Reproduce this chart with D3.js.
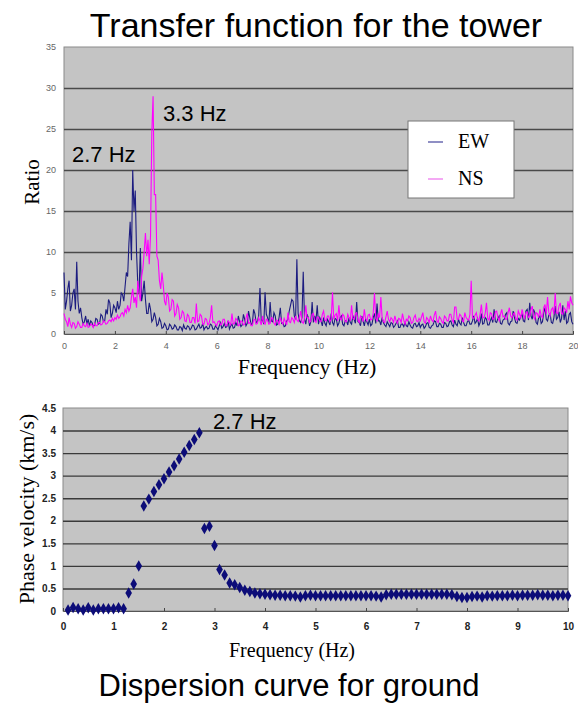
<!DOCTYPE html>
<html>
<head>
<meta charset="utf-8">
<script src="https://cdn.jsdelivr.net/npm/d3@7"></script>
<style>
  body { margin: 0; background: #fff; }
  svg { display: block; }
</style>
</head>
<body>
<svg id="chart"></svg>
<script>
// transfer function (ratio), one value every 0.05 Hz from 0 to 20 (20 per row = 1 Hz)
var freqStep = 0.05;
var ewRatio = [
  7.5,3.0,4.0,5.5,6.5,2.8,3.5,5.0,5.5,3.0,8.8,4.0,2.5,3.2,2.0,1.2,1.5,2.2,1.2,1.8,
  1.0,1.6,1.4,0.9,1.1,1.9,1.8,1.2,1.3,2.4,2.2,1.5,1.6,3.0,2.4,4.2,3.8,2.0,2.5,3.5,
  3.2,2.6,4.0,3.0,3.5,5.0,4.8,4.0,5.8,7.5,7.0,11.0,13.7,9.0,20.0,15.0,17.5,10.0,6.0,5.0,
  10.5,4.0,5.0,6.5,4.2,2.5,2.5,3.8,3.0,1.5,1.8,2.6,2.0,1.0,1.2,1.9,1.5,0.7,0.8,1.3,
  1.0,0.5,0.6,1.2,1.0,0.6,0.7,1.1,0.9,0.5,0.5,0.9,0.8,0.4,1.1,0.7,0.6,1.0,0.9,0.5,
  0.7,1.1,1.0,0.5,0.6,0.9,1.2,0.7,0.8,1.3,0.5,0.8,0.9,0.6,0.7,1.2,1.1,0.6,0.6,1.0,
  0.8,0.5,1.0,1.4,0.7,0.9,1.3,0.8,0.9,1.6,0.6,1.0,1.2,0.7,0.8,1.4,1.0,2.2,1.5,0.9,
  1.1,2.4,1.8,1.0,1.3,2.8,2.0,1.2,1.2,3.0,2.5,1.4,1.5,2.2,5.6,1.6,1.8,1.2,5.1,2.4,
  2.0,1.3,3.9,1.6,1.5,2.6,2.2,1.1,1.2,2.0,3.2,1.3,1.4,0.9,1.0,1.6,1.8,2.8,3.5,4.2,
  4.0,2.2,1.8,9.1,2.5,1.6,1.4,2.0,7.6,1.8,1.2,2.4,2.0,1.0,1.5,3.9,1.4,2.2,1.6,3.5,
  1.2,2.0,1.6,1.0,2.0,1.3,1.0,1.8,1.5,1.1,2.5,1.4,1.1,1.9,1.8,1.0,1.3,2.0,2.2,1.2,
  1.0,1.6,1.6,1.1,2.0,1.4,1.2,2.2,1.8,1.3,3.9,1.5,1.4,1.0,2.2,1.6,1.0,1.8,1.5,1.1,
  1.8,1.0,1.2,2.0,2.5,1.3,3.7,1.6,1.6,1.1,2.0,1.4,1.1,0.9,1.5,1.2,0.9,1.4,1.3,0.8,
  1.0,1.3,1.6,0.8,0.8,1.2,1.2,0.9,1.4,1.0,0.9,1.5,1.1,0.8,0.7,1.2,1.3,0.9,1.0,1.4,
  0.8,1.1,1.2,0.7,0.9,1.3,1.4,0.8,0.7,1.0,1.1,1.6,1.5,0.9,0.9,1.3,1.2,0.8,0.8,1.4,
  1.3,0.9,1.0,1.5,1.6,1.1,0.9,1.7,1.2,1.0,1.8,1.3,1.1,2.0,1.4,1.0,1.0,1.5,1.7,1.2,
  1.2,1.6,2.2,1.3,1.5,1.9,1.0,1.4,2.5,1.2,1.3,2.0,1.8,1.1,1.1,1.6,2.0,1.4,3.0,1.5,
  1.4,1.9,2.2,1.3,1.2,1.7,1.8,2.4,2.6,1.3,1.1,1.5,1.6,2.8,2.0,1.4,1.3,1.9,1.7,2.2,
  2.4,1.6,1.5,2.8,3.0,1.7,3.8,2.2,1.8,3.0,2.6,1.4,1.2,2.0,2.2,1.3,1.5,2.6,3.2,1.8,
  1.6,2.3,2.5,1.4,1.3,2.0,3.4,1.8,2.0,2.7,1.4,1.9,3.5,1.7,2.8,1.3,1.5,2.4,2.6,1.5,
  1.2
];
var nsRatio = [
  2.5,1.8,1.5,0.9,2.0,1.2,0.8,1.4,1.3,0.7,0.9,1.5,1.2,0.8,0.8,1.3,1.0,0.9,1.3,0.8,
  0.9,1.2,1.1,0.8,1.3,1.0,1.0,1.4,1.4,1.1,1.2,1.6,1.5,1.2,1.3,1.6,1.7,1.5,1.9,1.6,
  2.0,1.8,2.3,1.9,2.1,2.5,2.6,2.2,3.0,2.6,3.5,2.8,3.2,4.5,5.5,3.8,4.5,3.2,6.5,5.0,
  4.0,7.0,8.0,10.0,12.3,9.5,11.5,8.5,12.0,24.5,29.0,17.0,17.0,9.5,9.0,6.5,5.5,7.5,6.0,4.0,
  3.5,5.0,4.5,2.8,3.0,4.2,4.0,2.2,2.5,3.6,3.2,1.8,2.0,2.8,2.6,1.6,1.5,2.4,2.2,1.4,
  1.4,2.0,2.0,1.3,3.7,1.5,1.6,2.4,2.2,1.2,1.2,1.9,1.8,1.1,1.3,2.0,3.5,1.4,1.5,1.2,
  1.0,1.5,1.6,1.1,1.2,1.8,1.8,1.0,1.0,1.6,1.4,1.1,2.5,1.2,1.3,1.9,1.7,1.0,1.1,1.6,
  1.5,1.1,1.2,1.9,2.5,1.3,1.4,1.0,1.0,1.7,1.8,1.2,1.3,2.0,1.6,1.1,2.2,1.4,1.2,1.8,
  1.7,1.2,1.3,2.0,1.9,1.3,1.1,1.7,1.6,1.2,2.0,1.5,1.2,1.9,1.5,1.1,2.6,1.5,1.4,2.0,
  1.8,1.4,2.2,1.7,1.5,2.0,2.8,1.5,1.3,1.9,3.5,2.0,2.0,1.4,1.6,2.4,2.5,1.6,1.4,2.1,
  2.0,1.6,1.5,2.4,2.8,1.7,1.6,2.2,2.2,1.5,1.8,5.1,1.8,2.3,2.5,1.6,3.5,1.9,1.7,2.4,
  2.2,1.5,1.5,2.4,2.0,1.6,3.5,1.9,1.8,2.5,2.6,1.7,1.4,2.2,2.0,1.5,3.0,1.9,1.6,2.3,
  2.4,1.7,1.8,2.5,5.0,1.9,1.6,2.4,2.0,4.5,2.0,1.5,1.4,2.1,2.8,1.8,1.5,2.0,1.8,1.4,
  2.2,1.6,1.3,1.9,1.8,1.4,2.5,1.7,1.2,1.8,1.6,2.2,2.0,1.3,1.4,2.0,2.3,1.6,1.5,1.9,
  1.6,2.1,2.6,1.5,1.3,2.0,1.8,1.4,2.2,1.7,1.5,2.3,2.8,1.6,1.4,2.1,1.9,1.5,1.3,2.2,
  2.0,1.6,1.6,2.4,2.4,1.7,1.4,3.3,3.3,1.8,1.8,2.4,2.2,1.6,1.5,2.6,2.0,1.8,1.7,2.4,
  6.5,2.0,1.9,2.3,2.6,1.8,1.6,2.4,3.6,2.0,2.0,2.5,3.8,1.9,1.7,2.6,2.5,1.8,1.9,2.7,
  2.8,2.0,1.6,2.4,3.0,2.1,2.2,1.8,1.8,2.6,3.2,2.2,2.0,2.4,2.6,1.9,1.7,2.8,2.4,2.0,
  3.0,2.3,1.9,2.6,2.7,2.0,2.2,3.0,3.4,2.1,1.8,2.6,2.5,2.0,3.0,2.2,2.0,3.2,3.6,2.4,
  4.5,2.6,2.2,3.0,3.2,2.4,5.0,2.6,2.5,3.4,3.8,2.5,2.4,3.2,3.0,2.6,4.0,3.0,4.6,3.8,
  3.5
];
var ratioTicks = [0, 5, 10, 15, 20, 25, 30, 35];
var freqTicksTop = [0, 2, 4, 6, 8, 10, 12, 14, 16, 18, 20];

// dispersion curve, 0.1 to 10 Hz
var dispFreq = d3.range(1, 101).map(function(i) { return i / 10; });
var phaseVel = [
  0.02, 0.08, 0.05, 0.02, 0.07, 0.02, 0.05, 0.05, 0.05, 0.05,
  0.07, 0.05, 0.40, 0.60, 1.00, 2.33, 2.48, 2.65, 2.80, 2.93,
  3.08, 3.22, 3.37, 3.52, 3.67, 3.80, 3.95, 1.83, 1.88, 1.45,
  0.92, 0.80, 0.62, 0.58, 0.52, 0.46, 0.43, 0.40, 0.38, 0.37,
  0.36, 0.35, 0.35, 0.34, 0.34, 0.33, 0.31, 0.34, 0.35, 0.34,
  0.34, 0.34, 0.34, 0.34, 0.34, 0.34, 0.34, 0.34, 0.34, 0.34,
  0.34, 0.33, 0.31, 0.36, 0.37, 0.37, 0.37, 0.37, 0.37, 0.37,
  0.37, 0.37, 0.37, 0.37, 0.37, 0.37, 0.36, 0.32, 0.30, 0.30,
  0.32, 0.33, 0.31, 0.34, 0.33, 0.34, 0.34, 0.34, 0.35, 0.34,
  0.35, 0.35, 0.35, 0.36, 0.35, 0.35, 0.34, 0.35, 0.35, 0.34
];
var velTicks = [0, 0.5, 1, 1.5, 2, 2.5, 3, 3.5, 4, 4.5];
var freqTicksBot = [0, 1, 2, 3, 4, 5, 6, 7, 8, 9, 10];

var W = 578, H = 706;
var svg = d3.select('#chart').attr('width', W).attr('height', H);

var sans = 'Liberation Sans, Arial, sans-serif';
var serif = 'Liberation Serif, Times New Roman, serif';

// ---------- top chart ----------
var t = {left: 64, right: 573, top: 47, bottom: 334};
var xTop = d3.scaleLinear().domain([0, 20]).range([t.left, t.right]);
var yTop = d3.scaleLinear().domain([0, 35]).range([t.bottom, t.top]);

svg.append('text').attr('x', 316).attr('y', 37).attr('text-anchor', 'middle')
  .style('font-family', sans).style('font-size', '34px').text('Transfer function for the tower');

svg.append('rect').attr('x', t.left).attr('y', t.top)
  .attr('width', t.right - t.left).attr('height', t.bottom - t.top)
  .attr('fill', '#c4c4c4').attr('stroke', '#8a8a8a');

var gy = svg.append('g').attr('transform', 'translate(' + t.left + ',0)')
  .call(d3.axisLeft(yTop).tickValues(ratioTicks).tickSize(-(t.right - t.left)).tickPadding(8));
gy.select('.domain').remove();
gy.selectAll('.tick line').attr('stroke', '#4a4a4a').attr('stroke-width', 1.4)
  .filter(function(d) { return d === 0 || d === 35; }).remove();
gy.selectAll('.tick text').attr('fill', '#666').style('font-family', sans).style('font-size', '9px');

var gx = svg.append('g').attr('transform', 'translate(0,' + t.bottom + ')')
  .call(d3.axisBottom(xTop).tickValues(freqTicksTop).tickSize(-3).tickPadding(9));
gx.select('.domain').attr('stroke', '#555');
gx.selectAll('.tick line').attr('stroke', '#444');
gx.selectAll('.tick text').attr('fill', '#666').style('font-family', sans).style('font-size', '9px');

var lineTop = d3.line()
  .x(function(d, i) { return xTop(i * freqStep); })
  .y(function(d) { return yTop(d); });

svg.append('path').datum(ewRatio).attr('d', lineTop)
  .attr('fill', 'none').attr('stroke', '#1c1c80').attr('stroke-width', 1.1);
svg.append('path').datum(nsRatio).attr('d', lineTop)
  .attr('fill', 'none').attr('stroke', '#ff00ff').attr('stroke-width', 1.1);

svg.append('text').attr('x', 72).attr('y', 162)
  .style('font-family', sans).style('font-size', '22px').text('2.7 Hz');
svg.append('text').attr('x', 163).attr('y', 121)
  .style('font-family', sans).style('font-size', '22px').text('3.3 Hz');

// legend
var leg = svg.append('g');
leg.append('rect').attr('x', 408).attr('y', 121).attr('width', 106).attr('height', 77)
  .attr('fill', '#fff').attr('stroke', '#777');
[['EW', '#6a6ab0', 142], ['NS', '#f08cf0', 179]].forEach(function(s) {
  leg.append('line').attr('x1', 428).attr('x2', 443).attr('y1', s[2]).attr('y2', s[2])
    .attr('stroke', s[1]).attr('stroke-width', 1.5);
  leg.append('text').attr('x', 458).attr('y', s[2] + 6)
    .style('font-family', serif).style('font-size', '20px').text(s[0]);
});

svg.append('text').attr('transform', 'translate(39,182) rotate(-90)').attr('text-anchor', 'middle')
  .style('font-family', serif).style('font-size', '21px').text('Ratio');
svg.append('text').attr('x', 307).attr('y', 374).attr('text-anchor', 'middle')
  .style('font-family', serif).style('font-size', '22px').text('Frequency (Hz)');

// ---------- bottom chart ----------
var b = {left: 63, right: 568, top: 408, bottom: 611};
var xBot = d3.scaleLinear().domain([0, 10]).range([b.left, b.right]);
var yBot = d3.scaleLinear().domain([0, 4.5]).range([b.bottom, b.top]);

svg.append('rect').attr('x', b.left).attr('y', b.top)
  .attr('width', b.right - b.left).attr('height', b.bottom - b.top)
  .attr('fill', '#c4c4c4').attr('stroke', '#8a8a8a');

var gy2 = svg.append('g').attr('transform', 'translate(' + b.left + ',0)')
  .call(d3.axisLeft(yBot).tickValues(velTicks).tickSize(-(b.right - b.left)).tickPadding(7)
    .tickFormat(d3.format('')));
gy2.select('.domain').remove();
gy2.selectAll('.tick line').attr('stroke', '#3a3a3a').attr('stroke-width', 1.4)
  .filter(function(d) { return d === 0 || d === 4.5; }).remove();
gy2.selectAll('.tick text').attr('fill', '#222').style('font-family', sans)
  .style('font-size', '10px').style('font-weight', 'bold');

var gx2 = svg.append('g').attr('transform', 'translate(0,' + b.bottom + ')')
  .call(d3.axisBottom(xBot).tickValues(freqTicksBot).tickSize(-3).tickPadding(12));
gx2.select('.domain').attr('stroke', '#555');
gx2.selectAll('.tick line').attr('stroke', '#444');
gx2.selectAll('.tick text').attr('fill', '#222').style('font-family', sans)
  .style('font-size', '10px').style('font-weight', 'bold');

var diamond = d3.symbol().type(d3.symbolDiamond).size(38);
svg.append('g').selectAll('path')
  .data(phaseVel)
  .enter()
  .append('path')
  .attr('d', diamond)
  .attr('transform', function(d, i) { return 'translate(' + xBot(dispFreq[i]) + ',' + yBot(d) + ')'; })
  .attr('fill', '#0c0c78');

svg.append('text').attr('x', 213).attr('y', 429)
  .style('font-family', sans).style('font-size', '22px').text('2.7 Hz');

svg.append('text').attr('transform', 'translate(34,509) rotate(-90)').attr('text-anchor', 'middle')
  .style('font-family', serif).style('font-size', '22px').text('Phase velocity (km/s)');
svg.append('text').attr('x', 292).attr('y', 657).attr('text-anchor', 'middle')
  .style('font-family', serif).style('font-size', '20px').text('Frequency (Hz)');

svg.append('text').attr('x', 289).attr('y', 696).attr('text-anchor', 'middle')
  .style('font-family', sans).style('font-size', '31px').text('Dispersion curve for ground');
</script>
</body>
</html>
